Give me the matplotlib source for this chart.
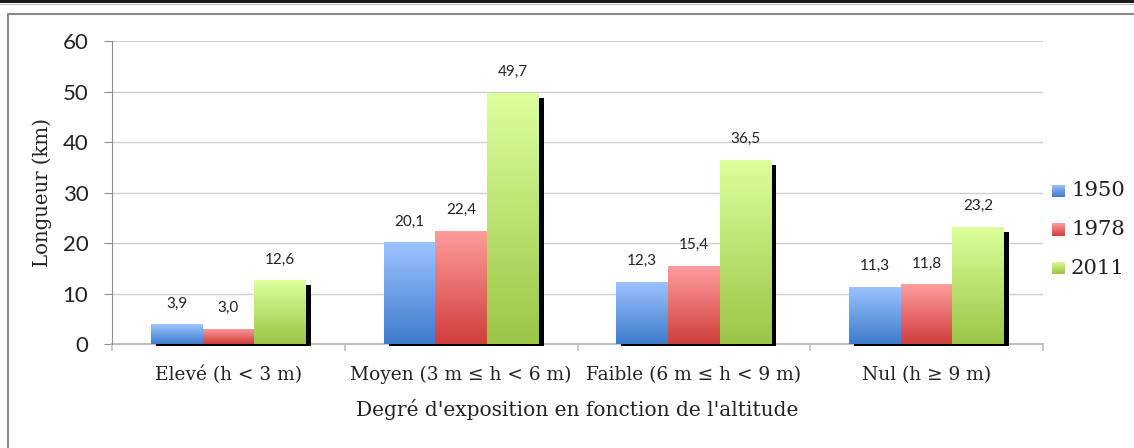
import numpy as np
import matplotlib
matplotlib.use("Agg")
import matplotlib.pyplot as plt
from matplotlib.colors import LinearSegmentedColormap
from matplotlib.patches import Rectangle
from matplotlib.lines import Line2D

categories = ["Elevé (h < 3 m)", "Moyen (3 m ≤ h < 6 m)", "Faible (6 m ≤ h < 9 m)", "Nul (h ≥ 9 m)"]
series_names = ["1950", "1978", "2011"]
v1950 = [3.9, 20.1, 12.3, 11.3]
v1978 = [3.0, 22.4, 15.4, 11.8]
v2011 = [12.6, 49.7, 36.5, 23.2]
values = [v1950, v1978, v2011]
yticks = [0, 10, 20, 30, 40, 50, 60]

# gradient colours (bottom, top)
grads = [("#3D7CCB", "#9DC3FF"), ("#CF3E3C", "#FF9D9D"), ("#9BC545", "#DDFF9D")]

W, H = 1134, 448
fig = plt.figure(figsize=(W / 100, H / 100), dpi=100)
fig.patch.set_facecolor("white")

# outer decorations
fig.add_artist(Rectangle((0, 1 - 3.5 / H), 1, 3.5 / H, transform=fig.transFigure,
                         facecolor="#1a1a1a", edgecolor="none"))
fig.add_artist(Line2D([0, 1], [1 - 4.5 / H, 1 - 4.5 / H], transform=fig.transFigure,
                      color="#bdbdbd", lw=0.8))
fig.add_artist(Line2D([7.5 / W, 7.5 / W, 1.01], [-0.01, 1 - 14.5 / H, 1 - 14.5 / H],
                      transform=fig.transFigure, color="#8a8a8a", lw=1.5))

left, right, top, bottom = 112, 1043, 41, 344
ax = fig.add_axes([left / W, 1 - bottom / H, (right - left) / W, (bottom - top) / H])
ax.set_xlim(-0.5, 3.5)
ax.set_ylim(0, 60)

x = np.arange(len(categories))
bw = 0.222
px_x = 4.0 / (right - left)
px_y = 60.0 / (bottom - top)

# shadow behind the groups
for j in range(len(categories)):
    for i in range(3):
        xc = x[j] + (i - 1) * bw
        ax.bar(xc + 5 * px_x, values[i][j] - 5 * px_y + 1.5 * px_y, width=bw, bottom=-1.5 * px_y,
               color="black", zorder=2, clip_on=False)

for i in range(3):
    cmap = LinearSegmentedColormap.from_list("g%d" % i, [grads[i][0], grads[i][1]])
    bars = ax.bar(x + (i - 1) * bw, values[i], width=bw, facecolor="none",
                  edgecolor="none", zorder=3)
    for b, v in zip(bars, values[i]):
        x0, y0 = b.get_x(), b.get_y()
        w, h = b.get_width(), b.get_height()
        grad = np.linspace(0, 1, 256).reshape(-1, 1)
        im = ax.imshow(grad, cmap=cmap, origin="lower", aspect="auto",
                       extent=[x0, x0 + w, y0, y0 + h], zorder=3, interpolation="bilinear")
        im.set_clip_path(b)
        ax.annotate(f"{v:.1f}".replace(".", ","), (x0 + w / 2, v), xytext=(0, 10),
                    textcoords="offset points", ha="center", va="bottom",
                    fontsize=11, family="Lato", color="#222222", zorder=5)

ax.set_xlim(-0.5, 3.5)
ax.set_ylim(0, 60)

# grid and axes
ax.set_yticks(yticks)
ax.yaxis.grid(True, color="#cfcfcf", lw=1.0)
ax.set_axisbelow(True)
for s in ["top", "right"]:
    ax.spines[s].set_visible(False)
ax.spines["left"].set_color("#8c8c8c")
ax.spines["bottom"].set_color("#c0c0c0")
ax.spines["bottom"].set_linewidth(1.5)
ax.spines["bottom"].set_zorder(1)
ax.tick_params(axis="y", length=6, color="#8c8c8c", labelsize=16, labelcolor="#222222", pad=11)
for t in ax.get_yticklabels():
    t.set_family("Lato")

ax.set_xticks([-0.5, 0.5, 1.5, 2.5, 3.5])
ax.set_xticklabels([])
ax.tick_params(axis="x", length=5, color="#c0c0c0", width=1.2)
for j, c in enumerate(categories):
    ax.text(x[j], -6.1, c, ha="center", va="center", fontsize=13.4,
            family="DejaVu Serif", color="#222222", clip_on=False)

ax.text(0.5, -0.215, "Degré d'exposition en fonction de l'altitude", transform=ax.transAxes,
        ha="center", va="center", fontsize=14.5, family="DejaVu Serif", color="#222222")
fig.text(42 / W, 1 - 192 / H, "Longueur (km)", rotation=90, ha="center", va="center",
         fontsize=14.2, family="DejaVu Serif", color="#222222")

# legend
for i, name in enumerate(series_names):
    yc = 191 + 38.5 * i
    cmap = LinearSegmentedColormap.from_list("l%d" % i, [grads[i][0], grads[i][1]])
    lax = fig.add_axes([1052 / W, 1 - (yc + 6.5) / H, 13 / W, 13 / H])
    lax.imshow(np.linspace(0, 1, 64).reshape(-1, 1), cmap=cmap, origin="lower", aspect="auto")
    lax.axis("off")
    fig.text(1071 / W, 1 - yc / H, name, ha="left", va="center", fontsize=15.2,
             family="DejaVu Serif", color="#222222")

fig.savefig("out.png", dpi=100, facecolor="white")
